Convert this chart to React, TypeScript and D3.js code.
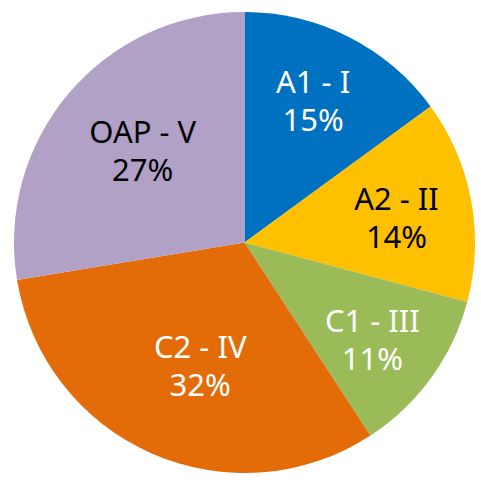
import React from "react";
import * as d3 from "d3";

const categories = ["A1 - I", "A2 - II", "C1 - III", "C2 - IV", "OAP - V"];
const values = [14.95, 14.2, 11.65, 31.6, 27.6];
const pctLabels = ["15%", "14%", "11%", "32%", "27%"];
const colors = ["#0070C0", "#FFC000", "#9BBB59", "#E36C09", "#B2A1C7"];
const textColors = ["#FFFFFF", "#000000", "#FFFFFF", "#FFFFFF", "#000000"];

// layout: label radius and angular nudge (degrees) per slice
const labelRadius = [157, 154, 161, 131, 137];
const labelShift = [-1, 1.4, 1.5, -4, 1.7];

const W = 481;
const H = 483;
const CX = 244.5;
const CY = 242.5;
const R = 230.5;

export default function App() {
  const pie = d3.pie<number>().sort(null).value((d) => d)(values);
  const arc = d3.arc<d3.PieArcDatum<number>>().innerRadius(0).outerRadius(R);
  return (
    <svg
      width={W}
      height={H}
      style={{ position: "absolute", left: 0, top: 0, background: "#fff" }}
    >
      <g transform={`translate(${CX},${CY})`}>
        {pie.map((p, i) => (
          <path key={i} d={arc(p) || ""} fill={colors[i]} />
        ))}
        {pie.map((p, i) => {
          const mid = (p.startAngle + p.endAngle) / 2 + (labelShift[i] * Math.PI) / 180;
          const x = labelRadius[i] * Math.sin(mid);
          const y = -labelRadius[i] * Math.cos(mid);
          return (
            <g key={"t" + i} fill={textColors[i]} fontFamily="'Noto Sans', sans-serif" fontSize={31} textAnchor="middle">
              <text x={x} y={y - 8}>{categories[i]}</text>
              <text x={x} y={y + 30}>{pctLabels[i]}</text>
            </g>
          );
        })}
      </g>
    </svg>
  );
}
